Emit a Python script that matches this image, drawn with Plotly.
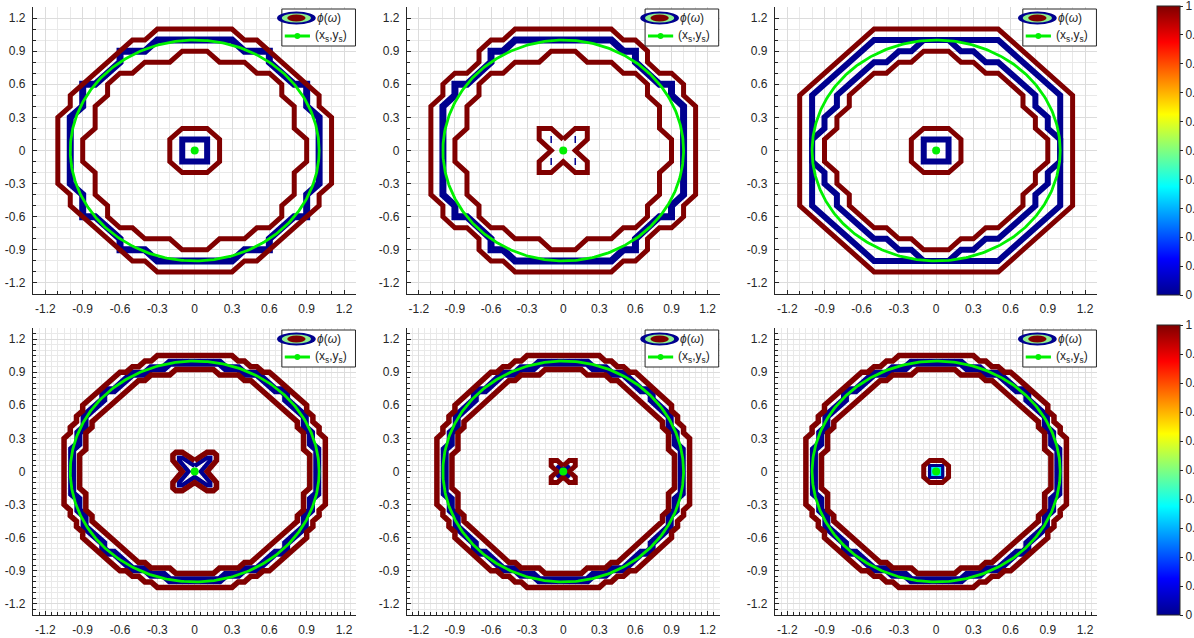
import numpy as np
import plotly.graph_objects as go

W, H = 1194, 638

# ---------------------------------------------------------------------------
# Contour vertices of phi(omega), first octant only (from the +y axis to the
# diagonal); every loop is completed by the square's mirror symmetries.
# ---------------------------------------------------------------------------
# top-left
p1_red_outer = [(0, 1.1), (0.3, 1.1), (0.4, 1.0), (0.5, 1.0)]
p1_blue = [(0, 1.0), (0.3, 1.0), (0.4, 0.9), (0.6, 0.9), (0.6, 0.8), (0.7, 0.7)]
p1_red_inner = [(0, 0.9), (0.1, 0.9), (0.2, 0.8), (0.4, 0.8), (0.5, 0.7), (0.6, 0.7)]
p1_red_core = [(0, 0.2), (0.1, 0.2)]
p1_blue_core = [(0, 0.1), (0.1, 0.1)]
p1_blue_dots = [(0.7, 0.7)]

# top-middle
p2_red_outer = [(0, 1.1), (0.4, 1.1), (0.5, 1.0), (0.6, 1.0), (0.7, 0.9), (0.7, 0.8)]
p2_blue = [(0, 1.0), (0.4, 1.0), (0.5, 0.9), (0.6, 0.9), (0.6, 0.8), (0.7, 0.7)]
p2_red_inner = [(0, 0.9), (0.1, 0.9), (0.2, 0.8), (0.4, 0.8), (0.5, 0.7), (0.6, 0.7)]
p2_red_core = [(0, 0.1), (0.1, 0.2), (0.2, 0.2)]
p2_blue_core = []
p2_blue_dots = [(0.7, 0.7), (0.1, 0.1)]

# top-right
p3_red_outer = [(0, 1.1), (0.5, 1.1)]
p3_blue = [(0, 1.0), (0.5, 1.0)]
p3_blue_inner = [(0, 1.0), (0.1, 1.0), (0.2, 0.9), (0.3, 0.9), (0.4, 0.8), (0.5, 0.8), (0.6, 0.7)]
p3_red_inner = [(0, 0.9), (0.1, 0.9), (0.2, 0.8), (0.3, 0.8), (0.4, 0.7), (0.5, 0.7)]
p3_red_core = [(0, 0.2), (0.1, 0.2)]
p3_blue_core = [(0, 0.1), (0.1, 0.1)]

# bottom-left
p4_red_outer = [(0, 1.05), (0.3, 1.05), (0.35, 1.0), (0.4, 1.0), (0.45, 0.95),
                (0.5, 0.95), (0.55, 0.9), (0.6, 0.9), (0.65, 0.85), (0.7, 0.8), (0.75, 0.75)]
p4_blue = [(0, 0.985), (0.2, 0.985), (0.25, 0.935), (0.35, 0.935), (0.4, 0.885),
           (0.5, 0.885), (0.55, 0.835), (0.6, 0.785), (0.65, 0.735), (0.7, 0.735)]
p4_red_inner = [(0, 0.925), (0.15, 0.925), (0.2, 0.875), (0.35, 0.875), (0.4, 0.825),
                (0.45, 0.825), (0.5, 0.775), (0.55, 0.725), (0.6, 0.675)]
p4_red_core = [(0, 0.1), (0.1, 0.175), (0.15, 0.175)]
p4_blue_core = [(0, 0.05), (0.1, 0.125), (0.125, 0.125)]

# bottom-middle
p5_red_outer = [(0, 1.05), (0.3, 1.05), (0.35, 1.0), (0.4, 1.0), (0.45, 0.95),
                (0.5, 0.95), (0.55, 0.9), (0.6, 0.9), (0.65, 0.85), (0.7, 0.8), (0.75, 0.75)]
p5_blue = [(0, 0.985), (0.2, 0.985), (0.25, 0.935), (0.35, 0.935), (0.4, 0.885),
           (0.5, 0.885), (0.55, 0.835), (0.6, 0.785), (0.65, 0.735), (0.7, 0.735)]
p5_red_inner = [(0, 0.925), (0.15, 0.925), (0.2, 0.875), (0.35, 0.875), (0.4, 0.825),
                (0.45, 0.825), (0.5, 0.775), (0.55, 0.725), (0.6, 0.675)]
p5_red_core = [(0, 0.05), (0.05, 0.1), (0.1, 0.1)]
p5_blue_core = [(0, 0.025), (0.05, 0.05)]

# bottom-right
p6_red_outer = [(0, 1.05), (0.3, 1.05), (0.35, 1.0), (0.4, 1.0), (0.45, 0.95),
                (0.5, 0.95), (0.55, 0.9), (0.6, 0.9), (0.65, 0.85), (0.7, 0.8), (0.75, 0.75)]
p6_blue = [(0, 0.985), (0.2, 0.985), (0.25, 0.935), (0.35, 0.935), (0.4, 0.885),
           (0.5, 0.885), (0.55, 0.835), (0.6, 0.785), (0.65, 0.735), (0.7, 0.735)]
p6_red_inner = [(0, 0.925), (0.15, 0.925), (0.2, 0.875), (0.35, 0.875), (0.4, 0.825),
                (0.45, 0.825), (0.5, 0.775), (0.55, 0.725), (0.6, 0.675)]
p6_red_core = [(0, 0.1), (0.05, 0.1)]
p6_blue_core = [(0, 0.05), (0.05, 0.05)]
p6_cyan_core = [(0, 0.03), (0.03, 0.03)]

# source curve (x_s, y_s): a circle
src_center = (0.0, 0.0)
src_radius = 1.0

tick_values = [-1.2, -0.9, -0.6, -0.3, 0, 0.3, 0.6, 0.9, 1.2]
cbar_ticks = [0, 0.1, 0.2, 0.3, 0.4, 0.5, 0.6, 0.7, 0.8, 0.9, 1]

# MATLAB-style jet colormap and line colours
JET = [[0.0, "rgb(0,0,143)"], [0.125, "rgb(0,0,255)"], [0.375, "rgb(0,255,255)"],
       [0.625, "rgb(255,255,0)"], [0.875, "rgb(255,0,0)"], [1.0, "rgb(128,0,0)"]]
RED = "rgb(128,0,0)"
BLUE = "rgb(0,0,143)"
CYAN = "rgb(0,230,255)"
GREEN = "rgb(0,240,0)"
AX = "#262626"
FONT = "Liberation Sans, Arial, Helvetica, sans-serif"

# (octant, colour, line width) per loop; blue drawn first, red on top
panels = [
    dict(loops=[(p1_blue, BLUE, 7), (p1_blue_core, BLUE, 6), (p1_red_outer, RED, 5),
                (p1_red_inner, RED, 5), (p1_red_core, RED, 5)],
         dots=p1_blue_dots, minor=0.1),
    dict(loops=[(p2_blue, BLUE, 7), (p2_blue_core, BLUE, 6), (p2_red_outer, RED, 5),
                (p2_red_inner, RED, 5), (p2_red_core, RED, 5)],
         dots=p2_blue_dots, minor=0.1),
    dict(loops=[(p3_blue, BLUE, 6), (p3_blue_inner, BLUE, 6), (p3_blue_core, BLUE, 6),
                (p3_red_outer, RED, 5), (p3_red_inner, RED, 5), (p3_red_core, RED, 5)],
         dots=[], minor=0.1),
    dict(loops=[(p4_blue, BLUE, 8), (p4_blue_core, BLUE, 4.5), (p4_red_outer, RED, 5.5),
                (p4_red_inner, RED, 5.5), (p4_red_core, RED, 5.5)],
         dots=[], minor=0.05),
    dict(loops=[(p5_blue, BLUE, 8), (p5_blue_core, BLUE, 4), (p5_red_outer, RED, 5.5),
                (p5_red_inner, RED, 5.5), (p5_red_core, RED, 5)],
         dots=[], minor=0.05),
    dict(loops=[(p6_blue, BLUE, 8), (p6_blue_core, BLUE, 4), (p6_red_outer, RED, 5.5),
                (p6_red_inner, RED, 5.5), (p6_red_core, RED, 5), (p6_cyan_core, CYAN, 2.5)],
         dots=[], minor=0.05),
]

# pixel boxes of the six axes
cols_px = [(34, 368), (420, 743), (800, 1133)]
rows_px = [(7, 294), (328, 615)]


def closed_loop(octant):
    """Complete an octant polyline into a closed loop with D4 symmetry."""
    if not octant:
        return [], []
    q1 = list(octant) + [(y, x) for (x, y) in reversed(octant)]
    q4 = [(x, -y) for (x, y) in reversed(q1)]
    q3 = [(-x, -y) for (x, y) in q1]
    q2 = [(-x, y) for (x, y) in reversed(q1)]
    pts = []
    for x, y in q1 + q4 + q3 + q2:
        p = (round(x, 4), round(y, 4))
        if not pts or pts[-1] != p:
            pts.append(p)
    if pts[0] != pts[-1]:
        pts.append(pts[0])
    xs, ys = zip(*pts)
    return list(xs), list(ys)


def sym4(points):
    out = set()
    for x, y in points:
        for sx in (1, -1):
            for sy in (1, -1):
                out.add((sx * x, sy * y))
    return sorted(out)


def px(v):
    return v / W


def py(v):
    return 1 - v / H


fig = go.Figure()

for i, pan in enumerate(panels):
    r, c = divmod(i, 3)
    ax = "" if i == 0 else str(i + 1)
    xa, ya = "x" + ax, "y" + ax
    for oct_pts, color, width in pan["loops"]:
        xs, ys = closed_loop(oct_pts)
        if xs:
            fig.add_trace(go.Scatter(x=xs, y=ys, xaxis=xa, yaxis=ya, mode="lines",
                                     line=dict(color=color, width=width),
                                     hoverinfo="skip", showlegend=False))
    if pan["dots"]:
        d = sym4(pan["dots"])
        fig.add_trace(go.Scatter(x=[p[0] for p in d], y=[p[1] for p in d], xaxis=xa, yaxis=ya,
                                 mode="markers",
                                 marker=dict(symbol="line-ns", size=5,
                                             line=dict(color=BLUE, width=1.5)),
                                 hoverinfo="skip", showlegend=False))
    t = np.linspace(0, 2 * np.pi, 361)
    fig.add_trace(go.Scatter(x=src_center[0] + src_radius * np.cos(t),
                             y=src_center[1] + src_radius * np.sin(t),
                             xaxis=xa, yaxis=ya, mode="lines",
                             line=dict(color=GREEN, width=2.8), hoverinfo="skip",
                             showlegend=False))
    fig.add_trace(go.Scatter(x=[src_center[0]], y=[src_center[1]], xaxis=xa, yaxis=ya,
                             mode="markers", marker=dict(color=GREEN, size=8),
                             hoverinfo="skip", showlegend=False))

    x0, x1 = cols_px[c]
    y0, y1 = rows_px[r]
    common = dict(
        range=[-1.3, 1.3], tickvals=tick_values,
        ticktext=[("%g" % v) for v in tick_values],
        ticks="inside", ticklen=4, tickcolor=AX,
        showline=True, linecolor=AX, linewidth=1, mirror=False,
        showgrid=True, gridcolor="#dcdcdc", gridwidth=1, zeroline=False,
        tickfont=dict(family=FONT, size=12, color=AX),
        minor=dict(dtick=pan["minor"], tick0=0, ticks="inside", ticklen=3,
                   tickcolor=AX, showgrid=True, gridcolor="#e9e9e9", gridwidth=1),
        fixedrange=True, ticklabelstandoff=4,
    )
    fig.update_layout(**{
        "xaxis" + ax: dict(domain=[x0 / W, x1 / W], anchor=ya, **common),
        "yaxis" + ax: dict(domain=[1 - y1 / H, 1 - y0 / H], anchor=xa, **common),
    })

    # legend box, placed in pixel offsets from the axes' top-right corner
    R, T = x1, y0
    fig.add_shape(type="rect", xref="paper", yref="paper",
                  x0=px(R - 77), x1=px(R - 1), y0=py(T + 2), y1=py(T + 39),
                  line=dict(color=AX, width=1), fillcolor="white", layer="above")
    cx, cy = R - 62, T + 11
    for (w_, h_, col) in [(40, 13, BLUE), (30, 9, "rgb(140,240,140)"), (19, 7, RED)]:
        fig.add_shape(type="circle", xref="paper", yref="paper",
                      x0=px(cx - w_ / 2), x1=px(cx + w_ / 2),
                      y0=py(cy + h_ / 2), y1=py(cy - h_ / 2),
                      line=dict(width=0), fillcolor=col, layer="above")
    fig.add_shape(type="line", xref="paper", yref="paper",
                  x0=px(R - 74), x1=px(R - 48), y0=py(T + 29), y1=py(T + 29),
                  line=dict(color=GREEN, width=3), layer="above")
    fig.add_shape(type="circle", xref="paper", yref="paper",
                  x0=px(R - 64), x1=px(R - 58), y0=py(T + 32), y1=py(T + 26),
                  line=dict(width=0), fillcolor=GREEN, layer="above")
    fig.add_annotation(xref="paper", yref="paper", x=px(R - 43), y=py(cy),
                       xanchor="left", yanchor="middle", showarrow=False,
                       text="<i>\u03d5</i>(<i>\u03c9</i>)",
                       font=dict(family=FONT, size=12, color=AX))
    fig.add_annotation(xref="paper", yref="paper", x=px(R - 45), y=py(T + 29),
                       xanchor="left", yanchor="middle", showarrow=False,
                       text="(x<sub>s</sub>,y<sub>s</sub>)",
                       font=dict(family=FONT, size=12, color=AX))

# two jet colorbars, one per row
for r, (ytop, ybot) in enumerate([(6, 295), (325, 615)]):
    fig.add_trace(go.Scatter(
        x=[5, 5], y=[5, 5], xaxis="x" if r == 0 else "x4", yaxis="y" if r == 0 else "y4",
        mode="markers", hoverinfo="skip", showlegend=False,
        marker=dict(color=[0, 1], cmin=0, cmax=1, colorscale=JET, showscale=True,
                    colorbar=dict(xref="container", yref="container",
                                  x=1157 / W, xanchor="left", xpad=0,
                                  y=1 - ytop / H, yanchor="top", ypad=0,
                                  len=(ybot - ytop) / H, lenmode="fraction",
                                  thickness=23, outlinewidth=1, outlinecolor=AX,
                                  tickvals=cbar_ticks,
                                  ticktext=[("%g" % v) for v in cbar_ticks],
                                  ticklabeloverflow="allow",
                                  ticks="outside", ticklen=3, tickcolor=AX,
                                  tickfont=dict(family=FONT, size=12, color=AX)))))

fig.update_layout(width=W, height=H, margin=dict(l=0, r=0, t=0, b=0),
                  paper_bgcolor="white", plot_bgcolor="white", showlegend=False)
fig.write_html("out.html")
